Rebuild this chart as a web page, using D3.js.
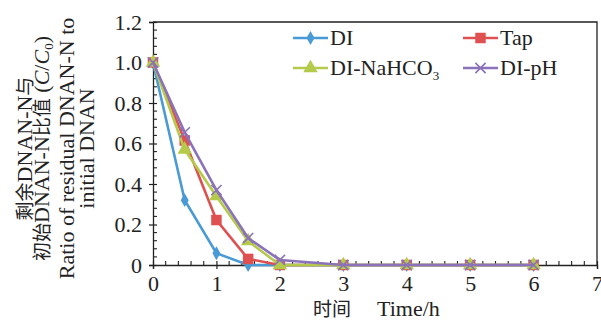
<!DOCTYPE html>
<html>
<head>
<meta charset="utf-8">
<script src="https://cdn.jsdelivr.net/npm/d3@7"></script>
<style>
  body { margin: 0; background: #fff; }
</style>
</head>
<body>
<div class="app"></div>
<script>
// data
const times = [0, 0.5, 1, 1.5, 2, 3, 4, 5, 6]
const di = [1.0, 0.32, 0.058, 0.0, 0.0, 0, 0, 0, 0]
const tap = [1.0, 0.615, 0.222, 0.03, 0.0, 0, 0, 0, 0]
const diNaHCO3 = [1.0, 0.57, 0.34, 0.118, 0.0, 0, 0, 0, 0]
const diPH = [1.0, 0.655, 0.37, 0.133, 0.025, 0, 0, 0, 0]
const xTicks = [0, 1, 2, 3, 4, 5, 6, 7]
const yTicks = [0, 0.2, 0.4, 0.6, 0.8, 1.0, 1.2]

const series = [
  { name: 'DI', values: di, color: '#4a9ad6', marker: 'diamond' },
  { name: 'Tap', values: tap, color: '#df5050', marker: 'square' },
  { name: 'DI-NaHCO3', values: diNaHCO3, color: '#b4ca4a', marker: 'triangle' },
  { name: 'DI-pH', values: diPH, color: '#8b72b9', marker: 'cross' },
]

const SERIF = '"Liberation Serif", "Times New Roman", serif'
const CJK = '"Noto Sans CJK SC", sans-serif'
const INK = '#222'

const W = 601, H = 320
const m = { left: 153, right: 4, top: 22, bottom: 55 }

const svg = d3.select('.app').append('svg').attr('width', W).attr('height', H)

const x = d3.scaleLinear().domain([0, 7]).range([m.left, W - m.right])
const y = d3.scaleLinear().domain([0, 1.2]).range([H - m.bottom, m.top])

// frame top/right
svg.append('path')
  .attr('d', `M${x(0)},${y(1.2)}H${x(7)}V${y(0)}`)
  .attr('fill', 'none').attr('stroke', INK).attr('stroke-width', 1.3)

// minor ticks (inside)
const xMinor = d3.range(0, 7.001, 0.2).filter(v => Math.abs(v - Math.round(v)) > 0.01)
svg.append('g').selectAll('line').data(xMinor).enter().append('line')
  .attr('x1', d => x(d)).attr('x2', d => x(d))
  .attr('y1', y(0)).attr('y2', y(0) - 4)
  .attr('stroke', INK).attr('stroke-width', 1.1)

const yMinor = d3.range(0, 1.2001, 0.04).filter(v => Math.abs(v * 5 - Math.round(v * 5)) > 0.01)
svg.append('g').selectAll('line').data(yMinor).enter().append('line')
  .attr('x1', x(0)).attr('x2', x(0) + 4)
  .attr('y1', d => y(d)).attr('y2', d => y(d))
  .attr('stroke', INK).attr('stroke-width', 1.1)

// x axis
const xAxis = svg.append('g').attr('transform', `translate(0,${y(0)})`)
  .call(d3.axisBottom(x).tickValues(xTicks).tickSize(4).tickPadding(6).tickFormat(d3.format('d')))
xAxis.select('.domain').attr('stroke', INK).attr('stroke-width', 1.3)
xAxis.selectAll('.tick line').attr('y1', -4).attr('stroke', INK).attr('stroke-width', 1.2)
xAxis.selectAll('text').style('font-family', SERIF).style('font-size', '22px').attr('fill', INK)

// y axis
const yAxis = svg.append('g').attr('transform', `translate(${x(0)},0)`)
  .call(d3.axisLeft(y).tickValues(yTicks).tickSize(4).tickPadding(7)
    .tickFormat(d => d === 0 ? '0' : d3.format('.1f')(d)))
yAxis.select('.domain').attr('stroke', INK).attr('stroke-width', 1.3)
yAxis.selectAll('.tick line').attr('x1', 4).attr('stroke', INK).attr('stroke-width', 1.2)
yAxis.selectAll('text').style('font-family', SERIF).style('font-size', '22px').attr('fill', INK)

// markers
const markerPath = {
  diamond: d3.symbol(d3.symbolDiamond, 55),
  square: d3.symbol(d3.symbolSquare, 110),
  triangle: d3.symbol(d3.symbolTriangle, 90),
  cross: d3.symbol(d3.symbolTimes, 70),
}

const line = d3.line().x(d => x(d[0])).y(d => y(d[1]))

series.forEach(s => {
  const pts = times.map((t, i) => [t, s.values[i]])
  const g = svg.append('g')
  g.append('path').attr('d', line(pts))
    .attr('fill', 'none').attr('stroke', s.color).attr('stroke-width', 2.6)
  g.selectAll('path.mk').data(pts).enter().append('path')
    .attr('class', 'mk')
    .attr('d', markerPath[s.marker])
    .attr('transform', d => `translate(${x(d[0])},${y(d[1])})`)
    .attr('fill', s.marker === 'cross' ? 'none' : s.color)
    .attr('stroke', s.marker === 'cross' ? s.color : 'none')
    .attr('stroke-width', 1.6)
})

// legend
const legendPos = [[293, 38], [463, 38], [293, 68], [463, 68]]
series.forEach((s, i) => {
  const [lx, ly] = legendPos[i]
  const g = svg.append('g').attr('transform', `translate(${lx},${ly})`)
  g.append('line').attr('x1', 0).attr('x2', 35).attr('y1', 0).attr('y2', 0)
    .attr('stroke', s.color).attr('stroke-width', 2.6)
  g.append('path').attr('d', markerPath[s.marker]).attr('transform', 'translate(17.5,0)')
    .attr('fill', s.marker === 'cross' ? 'none' : s.color)
    .attr('stroke', s.marker === 'cross' ? s.color : 'none')
    .attr('stroke-width', 1.6)
  const t = g.append('text').attr('x', 37).attr('y', 7)
    .style('font-family', SERIF).style('font-size', '22px').attr('fill', INK)
  if (s.name === 'DI-NaHCO3') {
    t.append('tspan').text('DI-NaHCO')
    t.append('tspan').text('3').style('font-size', '13px').attr('dy', 5)
  } else {
    t.text(s.name)
  }
})

// x title
svg.append('text').attr('x', 313).attr('y', 316).text('时间')
  .style('font-family', CJK).style('font-size', '19px').attr('fill', INK)
svg.append('text').attr('x', 377).attr('y', 316).text('Time/h')
  .style('font-family', SERIF).style('font-size', '22px').attr('fill', INK)

// y title
const yc = (y(0) + y(1.2)) / 2 + 5
const yTitle = [
  { cx: 25, parts: [['剩余', 'cjk'], ['DNAN-N', 'lat'], ['与', 'cjk']] },
  { cx: 42, parts: [['初始', 'cjk'], ['DNAN-N', 'lat'], ['比值', 'cjk'], [' (', 'lat'], ['C', 'it'], ['/', 'lat'], ['C', 'it'], ['0', 'sub'], [')', 'lat']] },
  { cx: 67, parts: [['Ratio of residual DNAN-N to', 'lat']] },
  { cx: 87, parts: [['initial DNAN', 'lat']] },
]
yTitle.forEach(l => {
  const t = svg.append('text')
    .attr('transform', `translate(${l.cx + 7},${yc}) rotate(-90)`)
    .attr('text-anchor', 'middle')
    .style('font-family', SERIF).style('font-size', '22px').attr('fill', INK)
  let sub = false
  l.parts.forEach(([txt, kind]) => {
    const sp = t.append('tspan').text(txt)
    if (kind === 'cjk') sp.style('font-family', CJK).style('font-size', '19px')
    if (kind === 'it') sp.style('font-style', 'italic')
    if (kind === 'sub') { sp.style('font-size', '13px').attr('dy', 4); sub = true }
    else if (sub) { sp.attr('dy', -4); sub = false }
  })
})
</script>
</body>
</html>
